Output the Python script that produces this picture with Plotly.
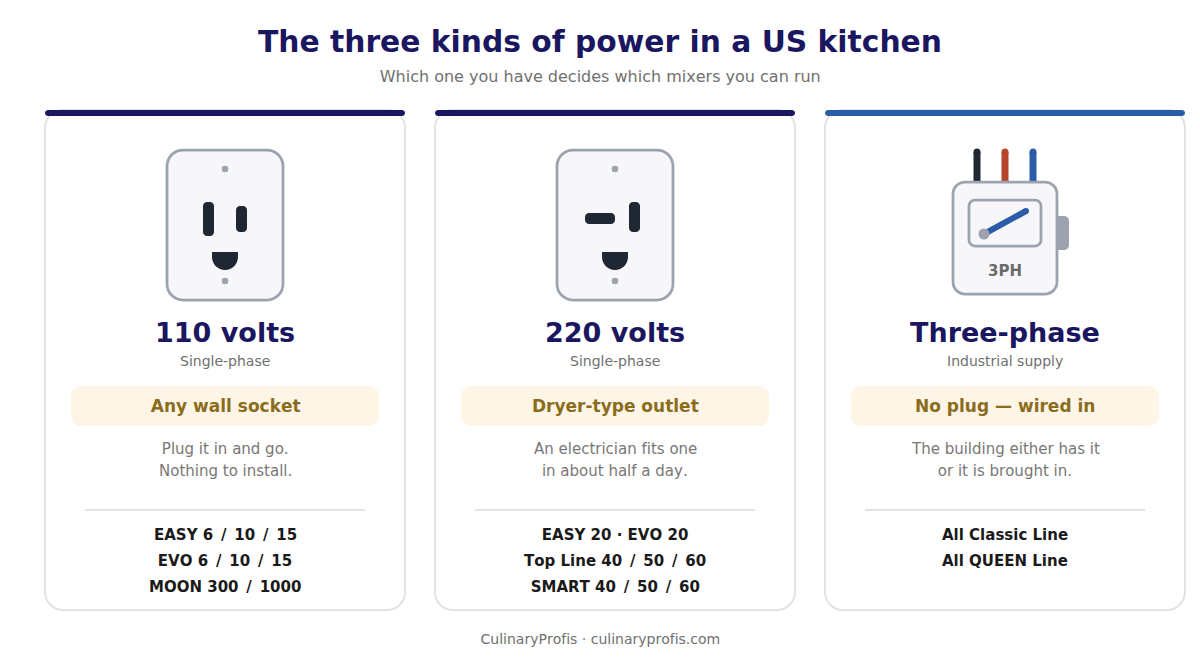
import plotly.graph_objects as go

# ---- content ----
title = "The three kinds of power in a US kitchen"
subtitle = "Which one you have decides which mixers you can run"
footer = "CulinaryProfis · culinaryprofis.com"
headings = ["110 volts", "220 volts", "Three-phase"]
supply = ["Single-phase", "Single-phase", "Industrial supply"]
pills = ["Any wall socket", "Dryer-type outlet", "No plug — wired in"]
descriptions = [
    ["Plug it in and go.", "Nothing to install."],
    ["An electrician fits one", "in about half a day."],
    ["The building either has it", "or it is brought in."],
]
models = [
    ["EASY 6 / 10 / 15", "EVO 6 / 10 / 15", "MOON 300 / 1000"],
    ["EASY 20 · EVO 20", "Top Line 40 / 50 / 60", "SMART 40 / 50 / 60"],
    ["All Classic Line", "All QUEEN Line"],
]
bar_colors = ["#1a1660", "#1a1660", "#2a5ca8"]

# ---- style ----
NAVY = "#1a1660"
FONT = "DejaVu Sans"
DARK = "#1f2733"
GREY = "#9ca3af"
PANEL = "#f7f7fa"
BLUE = "#2a5ca8"
RUST = "#b5452a"
CARD_X = [45, 435, 825]
K = 0.5523

shapes, annotations = [], []


def rr_path(x0, y0, x1, y1, rtl, rtr=None, rbr=None, rbl=None):
    rtr = rtl if rtr is None else rtr
    rbr = rtl if rbr is None else rbr
    rbl = rtl if rbl is None else rbl
    c = 1 - K
    p = f"M{x0+rtl},{y0} L{x1-rtr},{y0} "
    p += f"C{x1-rtr*c},{y0} {x1},{y0+rtr*c} {x1},{y0+rtr} " if rtr else ""
    p += f"L{x1},{y1-rbr} "
    p += f"C{x1},{y1-rbr*c} {x1-rbr*c},{y1} {x1-rbr},{y1} " if rbr else ""
    p += f"L{x0+rbl},{y1} "
    p += f"C{x0+rbl*c},{y1} {x0},{y1-rbl*c} {x0},{y1-rbl} " if rbl else ""
    p += f"L{x0},{y0+rtl} "
    p += f"C{x0},{y0+rtl*c} {x0+rtl*c},{y0} {x0+rtl},{y0} " if rtl else ""
    return p + "Z"


def rrect(x0, y0, x1, y1, r, fill, stroke=None, width=0, **kw):
    shapes.append(dict(
        type="path", xref="x", yref="y", layer="above",
        path=rr_path(x0, y0, x1, y1, r, *[kw[k] for k in ("rtr", "rbr", "rbl") if k in kw]),
        fillcolor=fill,
        line=dict(color=stroke or "rgba(0,0,0,0)", width=width),
    ))


def circle(cx, cy, r, fill):
    shapes.append(dict(type="circle", xref="x", yref="y", layer="above",
                       x0=cx - r, x1=cx + r, y0=cy - r, y1=cy + r,
                       fillcolor=fill, line=dict(width=0)))


def stroke_line(x0, y0, x1, y1, color, width):
    shapes.append(dict(type="line", xref="x", yref="y", layer="above",
                       x0=x0, x1=x1, y0=y0, y1=y1,
                       line=dict(color=color, width=width)))
    circle(x0, y0, width / 2, color)
    circle(x1, y1, width / 2, color)


def label(x, y, s, size, color, bold=False):
    annotations.append(dict(
        x=x, y=y, xref="x", yref="y", text=f"<b>{s}</b>" if bold else s,
        showarrow=False, xanchor="center", yanchor="middle",
        font=dict(family=FONT, size=size, color=color),
    ))


def wide_slash(s):
    # the reference's bold slash sits in a wider slot than DejaVu's
    return s.replace(" / ", '<span style="word-spacing:2.6px"> / </span>')


def ground(cx, top=252, half=13, h=18):
    rect_h = h - half
    path = (f"M{cx-half},{top} L{cx+half},{top} L{cx+half},{top+rect_h} "
            f"C{cx+half},{top+rect_h+half*K} {cx+half*K},{top+h} {cx},{top+h} "
            f"C{cx-half*K},{top+h} {cx-half},{top+rect_h+half*K} {cx-half},{top+rect_h} Z")
    shapes.append(dict(type="path", xref="x", yref="y", layer="above", path=path,
                       fillcolor=DARK, line=dict(width=0)))


def outlet(cx):
    rrect(cx - 58, 150, cx + 58, 300, 16, PANEL, GREY, 2.75)
    circle(cx, 169, 3.3, GREY)
    circle(cx, 281, 3.3, GREY)
    ground(cx)


# ---- cards ----
for i, x in enumerate(CARD_X):
    cx = x + 180
    rrect(x, 110, x + 360, 610, 18, "#ffffff", "#e2e2e2", 2)
    rrect(x, 110, x + 360, 116, 3, bar_colors[i])
    label(cx, 332, headings[i], 27, NAVY, True)
    label(cx, 361, supply[i], 14, "#707070")
    rrect(x + 26, 386, x + 334, 426, 10, "#fff5e7")
    label(cx, 406, pills[i], 17, "#8a6d1c", True)
    for y, line in zip([449, 471], descriptions[i]):
        label(cx, y, line, 15, "#777777")
    shapes.append(dict(type="line", xref="x", yref="y", layer="above",
                       x0=x + 40, x1=x + 320, y0=510, y1=510,
                       line=dict(color="#e2e2e2", width=2)))
    for y, line in zip([535, 561, 587], models[i]):
        label(cx, y, wide_slash(line), 15, "#1a1a1a", True)

# socket icons
outlet(225)
rrect(203, 202, 214, 236, 4, DARK)
rrect(236, 206, 247, 232, 4, DARK)
outlet(615)
rrect(585, 213, 615, 224, 4, DARK)
rrect(629, 202, 640, 232, 4, DARK)

# three-phase icon
stroke_line(977, 152, 977, 182, DARK, 7)
stroke_line(1005, 152, 1005, 182, RUST, 7)
stroke_line(1033, 152, 1033, 182, BLUE, 7)
rrect(1056, 216, 1069, 250, 0, GREY, rtr=5, rbr=5, rbl=0)
rrect(953, 182, 1057, 294, 12, PANEL, GREY, 2.75)
rrect(969, 200, 1041, 246, 6, PANEL, GREY, 2.75)
stroke_line(984, 234, 1026, 211, BLUE, 6)
circle(984, 234, 5.5, GREY)
label(1005, 271, "3PH", 15, "#6b6b6b", True)

# header / footer
label(600, 41, title, 29.75, NAVY, True)
label(600, 76, subtitle, 16, "#707070")
label(600, 639, footer, 14, "#707070")

fig = go.Figure()
fig.update_layout(
    width=1200, height=660,
    margin=dict(l=0, r=0, t=0, b=0),
    paper_bgcolor="#ffffff", plot_bgcolor="#ffffff",
    xaxis=dict(range=[0, 1200], visible=False, fixedrange=True),
    yaxis=dict(range=[660, 0], visible=False, fixedrange=True),
    showlegend=False,
    shapes=shapes, annotations=annotations,
)
fig.write_html(
    "out.html",
    config={"displayModeBar": False},
    post_script=(
        "document.body.style.margin='0';"
        "var s=document.createElement('style');"
        "s.textContent='svg text, svg text tspan{text-rendering:optimizeSpeed !important;"
        "font-kerning:none !important;font-variant-ligatures:none !important;}';"
        "document.head.appendChild(s);"
    ),
)
